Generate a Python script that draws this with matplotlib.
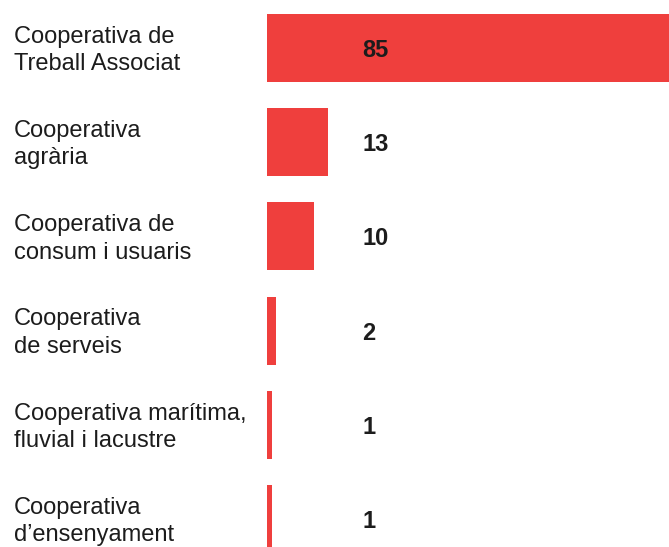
import matplotlib
matplotlib.use("Agg")
import matplotlib.pyplot as plt
from matplotlib.transforms import blended_transform_factory, offset_copy

categories = [
    "Cooperativa de\nTreball Associat",
    "Cooperativa\nagrària",
    "Cooperativa de\nconsum i usuaris",
    "Cooperativa\nde serveis",
    "Cooperativa marítima,\nfluvial i lacustre",
    "Cooperativa\nd\u2019ensenyament",
]
values = [85, 13, 10, 2, 1, 1]

W, H = 669, 547
fig = plt.figure(figsize=(W / 100, H / 100), dpi=100)
ax = fig.add_axes([267 / W, 0, 402 / W, 1])

color = "#EF3F3D"
ypos = list(range(len(values)))
ax.barh(ypos, values, height=0.722, color=color, linewidth=0)
ax.set_xlim(0, 85)
ax.set_ylim(5.297, -0.5096)
ax.axis("off")

tr = blended_transform_factory(fig.transFigure, ax.transData)
tr = offset_copy(tr, fig=fig, x=0, y=-2.5, units="dots")
for i, (c, v) in enumerate(zip(categories, values)):
    ax.text(14 / W, i, c, transform=tr, ha="left", va="center",
            fontsize=17, family="Liberation Sans", color="#1c1c1c",
            linespacing=1.32)
    ax.text(362 / W, i, str(v), transform=tr, ha="left", va="center",
            fontsize=17, family="Liberation Sans", fontweight="bold",
            color="#1c1c1c")

fig.savefig("out.png", dpi=100)
